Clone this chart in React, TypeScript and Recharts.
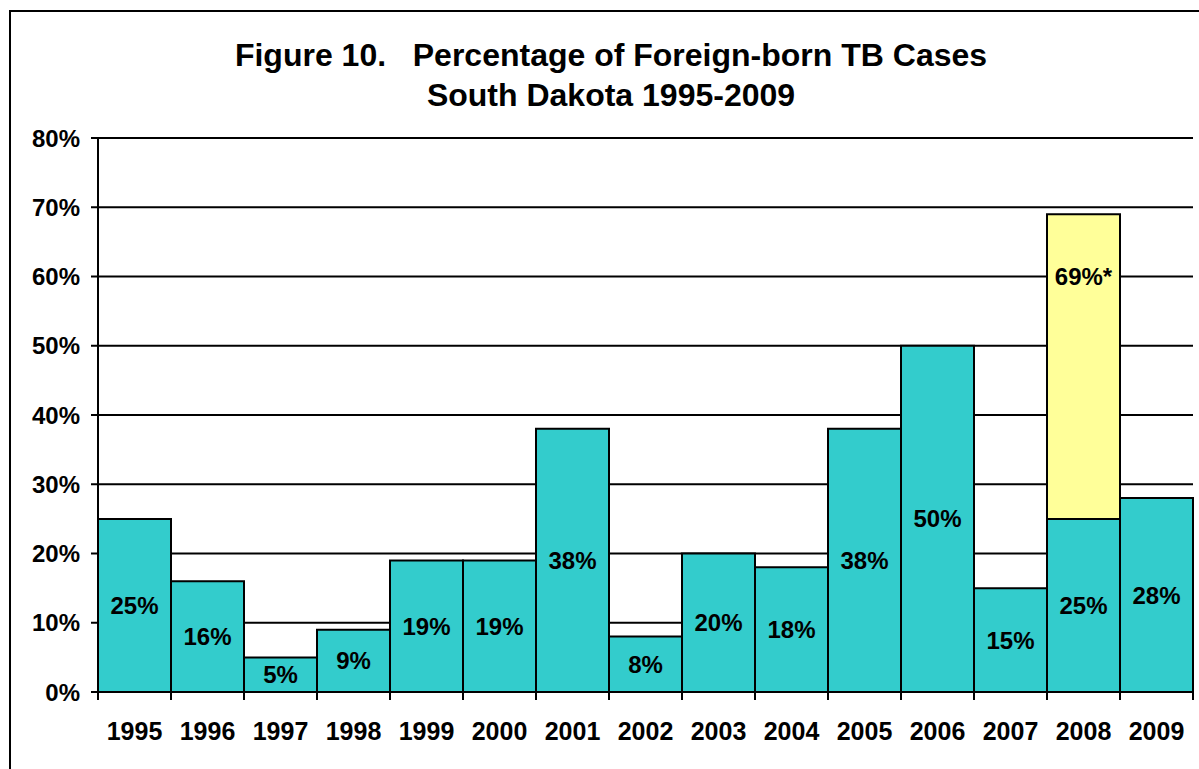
import React from 'react'
import { BarChart, Bar, XAxis, YAxis, CartesianGrid, LabelList } from 'recharts'

const years = ['1995', '1996', '1997', '1998', '1999', '2000', '2001', '2002', '2003', '2004', '2005', '2006', '2007', '2008', '2009']
const foreignPct = [25, 16, 5, 9, 19, 19, 38, 8, 20, 18, 38, 50, 15, 25, 28]
// 2008 extra part above the base bar (69% total, see footnote *)
const extraPct: Array<number | null> = [null, null, null, null, null, null, null, null, null, null, null, null, null, 44, null]
const extraLabels = ['', '', '', '', '', '', '', '', '', '', '', '', '', '69%*', '']
const yTicks = [0, 10, 20, 30, 40, 50, 60, 70, 80]

const data = years.map((year, i) => ({
  year,
  base: foreignPct[i],
  extra: extraPct[i],
  extraLabel: extraLabels[i],
}))

const FONT = '"Liberation Sans", Arial, sans-serif'
const W = 1199
const H = 769
const LEFT = 98
const RIGHT = 6
const band = (W - LEFT - RIGHT) / years.length

const XTick = (props: any) => {
  const { x, y, payload, index } = props
  const last = index === years.length - 1
  return (
    <g>
      <line x1={x - band / 2} x2={x - band / 2} y1={y} y2={y + 8} stroke="#000" strokeWidth={2} />
      {last && <line x1={x + band / 2} x2={x + band / 2} y1={y} y2={y + 8} stroke="#000" strokeWidth={2} />}
      <text x={x} y={y + 39} textAnchor="middle" dominantBaseline="central" fontFamily={FONT} fontWeight="bold" fontSize={25} fill="#000">
        {payload.value}
      </text>
    </g>
  )
}

const BaseLabel = (props: any) => {
  const { x, y, width, height, value } = props
  return (
    <text x={x + width / 2} y={y + height / 2} textAnchor="middle" dominantBaseline="central" fontFamily={FONT} fontWeight="bold" fontSize={24} fill="#000">
      {value}%
    </text>
  )
}

const ExtraLabel = (props: any) => {
  const { x, y, width, value } = props
  if (!value) return null
  return (
    <text x={x + width / 2} y={y + 62} textAnchor="middle" dominantBaseline="central" fontFamily={FONT} fontWeight="bold" fontSize={24} fill="#000">
      {value}
    </text>
  )
}

export default function App() {
  return (
    <div style={{ position: 'fixed', left: 0, top: 0, width: W, height: H, overflow: 'hidden', background: '#fff' }}>
      <div style={{ position: 'absolute', left: 9, top: 10, width: 1210, height: 820, border: '2px solid #000' }} />
      <div
        style={{
          position: 'absolute',
          left: 9,
          top: 35,
          width: 1204,
          textAlign: 'center',
          fontFamily: FONT,
          fontWeight: 'bold',
          fontSize: 32,
          lineHeight: '40px',
          whiteSpace: 'pre',
          color: '#000',
        }}
      >
        {'Figure 10.   Percentage of Foreign-born TB Cases\nSouth Dakota 1995-2009'}
      </div>
      <div style={{ position: 'absolute', left: 0, top: 0 }}>
        <BarChart width={W} height={H} data={data} margin={{ top: 138, right: RIGHT, bottom: 0, left: 8 }} barCategoryGap={0}>
          <CartesianGrid vertical={false} stroke="#000" strokeWidth={2} />
          <XAxis
            dataKey="year"
            height={77}
            axisLine={{ stroke: '#000', strokeWidth: 2 }}
            tickLine={false}
            tickSize={0}
            tickMargin={0}
            interval={0}
            tick={<XTick />}
          />
          <YAxis
            width={90}
            domain={[0, 80]}
            ticks={yTicks}
            tickFormatter={(v: number) => `${v}%`}
            axisLine={{ stroke: '#000', strokeWidth: 2 }}
            tickLine={{ stroke: '#000', strokeWidth: 2 }}
            tickSize={7}
            tickMargin={11}
            tick={{ fill: '#000', fontFamily: FONT, fontWeight: 'bold', fontSize: 24 }}
          />
          <Bar dataKey="base" stackId="a" fill="#33CCCC" stroke="#000" strokeWidth={2} isAnimationActive={false}>
            <LabelList dataKey="base" content={<BaseLabel />} />
          </Bar>
          <Bar dataKey="extra" stackId="a" fill="#FFFF99" stroke="#000" strokeWidth={2} isAnimationActive={false}>
            <LabelList dataKey="extraLabel" content={<ExtraLabel />} />
          </Bar>
        </BarChart>
      </div>
    </div>
  )
}
